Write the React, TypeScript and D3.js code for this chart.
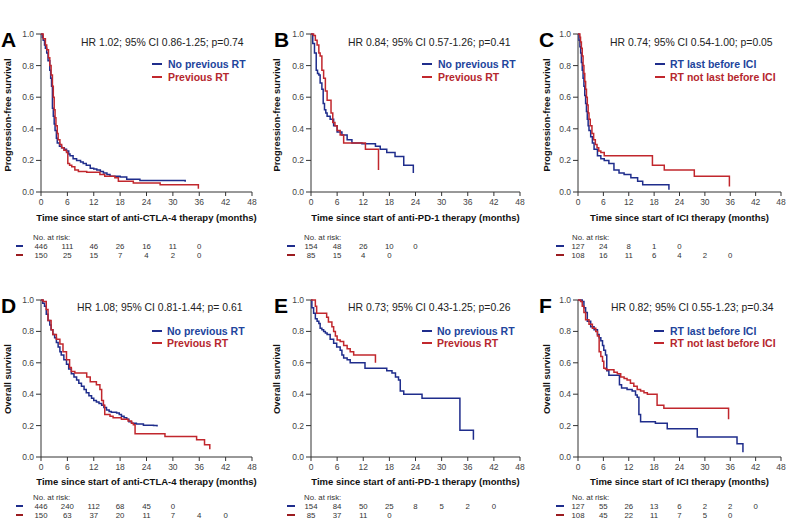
import React from 'react';
import * as d3 from 'd3';

// ---------- axis ticks ----------
const xTicks = [0, 6, 12, 18, 24, 30, 36, 42, 48];
const yTicks = [0, 0.2, 0.4, 0.6, 0.8, 1.0];

// ---------- texts ----------
const letters = ['A', 'B', 'C', 'D', 'E', 'F'];
const hrTexts = [
  'HR 1.02; 95% CI 0.86-1.25; p=0.74',
  'HR 0.84; 95% CI 0.57-1.26; p=0.41',
  'HR 0.74; 95% CI 0.54-1.00; p=0.05',
  'HR 1.08; 95% CI 0.81-1.44; p= 0.61',
  'HR 0.73; 95% CI 0.43-1.25; p=0.26',
  'HR 0.82; 95% CI 0.55-1.23; p=0.34',
];
const legendPrev = ['No previous RT', 'Previous RT'];
const legendLast = ['RT last before ICI', 'RT not last before ICI'];
const yLabels = ['Progression-free survival', 'Overall survival'];
const xTitles = [
  'Time since start of anti-CTLA-4 therapy (months)',
  'Time since start of anti-PD-1 therapy (months)',
  'Time since start of ICI therapy (months)',
];

// ---------- survival curves (time in months, survival) ----------
const pfsA_blue_t = [0.3, 0.5, 0.8, 1.0, 1.3, 1.6, 2.0, 2.2, 2.4, 2.6, 2.8, 3.0, 3.2, 3.5, 3.7, 4.2, 4.7, 5.3, 5.8, 6.3, 6.6, 7.3, 8.1, 9.0, 9.6, 10.3, 11.2, 12.0, 12.7, 13.5, 14.2, 15.0, 15.7, 18.0, 19.5, 22.5, 32.8];
const pfsA_blue_s = [0.98, 0.96, 0.93, 0.91, 0.88, 0.83, 0.77, 0.72, 0.67, 0.53, 0.48, 0.43, 0.39, 0.34, 0.31, 0.29, 0.28, 0.27, 0.26, 0.24, 0.23, 0.21, 0.20, 0.19, 0.18, 0.17, 0.15, 0.145, 0.14, 0.13, 0.12, 0.11, 0.10, 0.095, 0.08, 0.072, 0.065];
const pfsA_red_t = [0.5, 1.0, 1.3, 1.7, 2.0, 2.3, 2.6, 2.8, 3.0, 3.2, 3.4, 3.7, 3.9, 4.3, 4.7, 5.2, 5.8, 6.1, 6.5, 7.0, 7.7, 8.5, 10.4, 13.4, 14.5, 16.8, 17.6, 21.0, 27.1, 35.8];
const pfsA_red_s = [0.97, 0.93, 0.9, 0.85, 0.8, 0.74, 0.67, 0.6, 0.52, 0.47, 0.42, 0.37, 0.33, 0.30, 0.28, 0.265, 0.25, 0.18, 0.17, 0.16, 0.14, 0.13, 0.125, 0.11, 0.10, 0.09, 0.068, 0.057, 0.046, 0.02];

const pfsB_blue_t = [0.4, 0.8, 1.2, 1.5, 1.8, 2.1, 2.5, 2.8, 3.1, 3.4, 3.7, 4.4, 5.2, 6.0, 7.1, 8.3, 9.4, 11.7, 14.8, 15.9, 17.4, 19.3, 21.3, 23.5];
const pfsB_blue_s = [0.94, 0.88, 0.77, 0.75, 0.74, 0.69, 0.65, 0.56, 0.52, 0.50, 0.48, 0.46, 0.42, 0.38, 0.36, 0.33, 0.31, 0.305, 0.29, 0.27, 0.25, 0.225, 0.17, 0.12];
const pfsB_red_t = [0.6, 1.0, 1.4, 1.8, 2.1, 2.5, 2.9, 3.3, 3.7, 4.6, 5.0, 5.5, 6.0, 6.7, 7.5, 12.5, 15.5];
const pfsB_red_s = [0.99, 0.96, 0.93, 0.88, 0.86, 0.77, 0.72, 0.64, 0.58, 0.5, 0.44, 0.42, 0.39, 0.36, 0.31, 0.27, 0.14];

const pfsC_blue_t = [0.24, 0.45, 0.63, 0.8, 1.0, 1.2, 1.4, 1.6, 1.8, 2.0, 2.2, 2.4, 2.6, 3.0, 3.4, 3.8, 4.6, 5.4, 6.2, 7.3, 8.5, 9.7, 10.9, 12.5, 14.1, 15.3, 21.5];
const pfsC_blue_s = [0.96, 0.92, 0.88, 0.82, 0.77, 0.72, 0.67, 0.61, 0.56, 0.51, 0.46, 0.42, 0.39, 0.35, 0.31, 0.27, 0.23, 0.21, 0.20, 0.18, 0.14, 0.12, 0.11, 0.09, 0.068, 0.046, 0.015];
const pfsC_red_t = [0.45, 0.6, 0.8, 1.0, 1.2, 1.4, 1.6, 1.8, 2.0, 2.2, 2.4, 2.6, 2.9, 3.3, 3.7, 4.1, 4.5, 4.9, 5.4, 6.2, 17.6, 20.4, 27.5, 35.8];
const pfsC_red_s = [0.98, 0.95, 0.91, 0.86, 0.80, 0.75, 0.70, 0.65, 0.60, 0.55, 0.5, 0.46, 0.42, 0.37, 0.33, 0.30, 0.28, 0.26, 0.25, 0.23, 0.17, 0.14, 0.10, 0.035];

const osD_blue_t = [0.4, 0.8, 1.2, 1.6, 2.0, 2.3, 2.7, 3.1, 3.5, 3.9, 4.3, 4.6, 5.2, 5.8, 6.3, 6.9, 7.5, 8.1, 8.6, 9.2, 9.8, 10.3, 10.9, 11.5, 12.0, 12.6, 13.2, 13.8, 14.3, 14.9, 15.5, 16.0, 17.2, 17.8, 18.3, 18.9, 19.5, 20.0, 20.6, 21.7, 23.3, 25.6, 26.4];
const osD_blue_s = [0.98, 0.96, 0.91, 0.87, 0.84, 0.81, 0.78, 0.76, 0.73, 0.70, 0.67, 0.65, 0.62, 0.59, 0.56, 0.53, 0.51, 0.49, 0.47, 0.45, 0.43, 0.41, 0.39, 0.375, 0.36, 0.35, 0.34, 0.33, 0.315, 0.30, 0.29, 0.285, 0.28, 0.27, 0.26, 0.25, 0.24, 0.225, 0.215, 0.21, 0.203, 0.20, 0.195];
const osD_red_t = [0.5, 1.2, 1.6, 2.3, 2.7, 3.5, 4.3, 5.0, 5.8, 6.5, 6.9, 7.7, 10.4, 11.2, 12.6, 13.4, 13.8, 14.2, 14.5, 15.7, 16.4, 18.3, 19.8, 20.6, 21.0, 21.4, 28.2, 35.4, 37.2, 38.4];
const osD_red_s = [0.99, 0.94, 0.87, 0.81, 0.78, 0.75, 0.72, 0.67, 0.62, 0.57, 0.545, 0.535, 0.51, 0.48, 0.46, 0.43, 0.36, 0.33, 0.27, 0.26, 0.25, 0.24, 0.23, 0.215, 0.205, 0.148, 0.13, 0.11, 0.078, 0.05];

const osE_blue_t = [0.2, 0.6, 1.0, 1.4, 1.8, 2.1, 2.5, 2.9, 3.3, 3.7, 4.4, 5.2, 5.9, 6.7, 7.1, 7.5, 8.3, 9.0, 12.4, 17.4, 18.6, 19.4, 20.1, 20.5, 21.3, 25.5, 34.2, 37.3];
const osE_blue_s = [0.95, 0.915, 0.88, 0.865, 0.85, 0.82, 0.81, 0.80, 0.79, 0.78, 0.75, 0.725, 0.70, 0.68, 0.65, 0.63, 0.62, 0.60, 0.565, 0.55, 0.535, 0.51, 0.49, 0.42, 0.40, 0.375, 0.17, 0.11];
const osE_red_t = [1.0, 1.3, 3.6, 4.0, 4.8, 5.2, 5.6, 6.0, 6.7, 7.5, 8.3, 9.0, 9.8, 14.8];
const osE_red_s = [0.96, 0.915, 0.89, 0.86, 0.83, 0.80, 0.77, 0.745, 0.735, 0.71, 0.69, 0.67, 0.65, 0.60];

const osF_blue_t = [1.0, 1.4, 1.8, 2.2, 3.0, 3.8, 4.6, 5.0, 5.4, 5.8, 6.1, 6.5, 6.8, 7.3, 9.8, 10.3, 11.6, 12.8, 13.6, 14.0, 14.4, 14.8, 18.3, 21.1, 28.2, 37.6, 39.0];
const osF_blue_s = [0.99, 0.95, 0.92, 0.865, 0.83, 0.81, 0.78, 0.76, 0.74, 0.71, 0.68, 0.65, 0.55, 0.52, 0.46, 0.44, 0.43, 0.42, 0.395, 0.38, 0.27, 0.225, 0.215, 0.18, 0.128, 0.085, 0.03];
const osF_red_t = [0.6, 1.0, 1.4, 1.8, 2.6, 3.4, 4.2, 4.6, 5.0, 5.4, 5.8, 6.1, 6.5, 6.8, 8.5, 9.3, 10.1, 10.9, 11.6, 12.4, 13.2, 14.0, 14.8, 15.6, 16.4, 18.7, 20.3, 35.6];
const osF_red_s = [0.99, 0.96, 0.92, 0.875, 0.845, 0.82, 0.80, 0.77, 0.67, 0.64, 0.61, 0.565, 0.56, 0.555, 0.54, 0.53, 0.51, 0.50, 0.49, 0.47, 0.45, 0.43, 0.42, 0.41, 0.40, 0.33, 0.31, 0.24];

// ---------- numbers at risk ----------
const riskA_blue = [446, 111, 46, 26, 16, 11, 0];
const riskA_red = [150, 25, 15, 7, 4, 2, 0];
const riskB_blue = [154, 48, 26, 10, 0];
const riskB_red = [85, 15, 4, 0];
const riskC_blue = [127, 24, 8, 1, 0];
const riskC_red = [108, 16, 11, 6, 4, 2, 0];
const riskD_blue = [446, 240, 112, 68, 45, 0];
const riskD_red = [150, 63, 37, 20, 11, 7, 4, 0];
const riskE_blue = [154, 84, 50, 25, 8, 5, 2, 0];
const riskE_red = [85, 37, 11, 0];
const riskF_blue = [127, 55, 26, 13, 6, 2, 2, 0];
const riskF_red = [108, 45, 22, 11, 7, 5, 0];

// ---------- styling / layout ----------
const FONT = "'Liberation Sans', Arial, Helvetica, sans-serif";
const BLUE = '#1f2d8c';
const RED = '#c1272d';
const BLUE_TXT = '#22449c';
const RED_TXT = '#b5272d';
const AXIS = '#333';
const RISK_FS = 7.8;

const COLS = [
  { x0: 41, x1: 252, letterX: 1, hrX: [81, 77], legLine: [152, 152], legText: [168, 167], yLabX: 8, riskLabX: 33, dash: [16, 23] },
  { x0: 311, x1: 520, letterX: 274, hrX: [348, 348], legLine: [422, 422], legText: [438, 437], yLabX: 277, riskLabX: 304, dash: [287, 295] },
  { x0: 578, x1: 781, letterX: 539, hrX: [610, 611], legLine: [655, 654], legText: [670, 670], yLabX: 547, riskLabX: 572, dash: [556, 564] },
];
const ROWS = [
  { yTop: 34, yBot: 192, letterY: 47, hrY: 46, leg: [64, 77], yLabY: 115, titleY: 218, risk: [237, 246, 255] },
  { yTop: 300, yBot: 457, letterY: 313, hrY: 311, leg: [331, 343], yLabY: 379, titleY: 482, risk: [497, 506, 515] },
];

const panelData = [
  { blue: [pfsA_blue_t, pfsA_blue_s], red: [pfsA_red_t, pfsA_red_s], rb: riskA_blue, rr: riskA_red, legend: legendPrev },
  { blue: [pfsB_blue_t, pfsB_blue_s], red: [pfsB_red_t, pfsB_red_s], rb: riskB_blue, rr: riskB_red, legend: legendPrev },
  { blue: [pfsC_blue_t, pfsC_blue_s], red: [pfsC_red_t, pfsC_red_s], rb: riskC_blue, rr: riskC_red, legend: legendLast },
  { blue: [osD_blue_t, osD_blue_s], red: [osD_red_t, osD_red_s], rb: riskD_blue, rr: riskD_red, legend: legendPrev },
  { blue: [osE_blue_t, osE_blue_s], red: [osE_red_t, osE_red_s], rb: riskE_blue, rr: riskE_red, legend: legendPrev },
  { blue: [osF_blue_t, osF_blue_s], red: [osF_red_t, osF_red_s], rb: riskF_blue, rr: riskF_red, legend: legendLast },
];

function Panel({ idx }: { idx: number }) {
  const col = COLS[idx % 3];
  const row = ROWS[Math.floor(idx / 3)];
  const r = Math.floor(idx / 3);
  const d = panelData[idx];
  const x = d3.scaleLinear().domain([0, 48]).range([col.x0, col.x1]);
  const y = d3.scaleLinear().domain([0, 1]).range([row.yBot, row.yTop]);
  const line = d3
    .line<[number, number]>()
    .x((p) => x(p[0]))
    .y((p) => y(p[1]))
    .curve(d3.curveStepAfter);
  const pts = (c: number[][]): [number, number][] => [[0, 1], ...c[0].map((t, i) => [t, c[1][i]] as [number, number])];

  return (
    <g>
      {/* axes */}
      <line x1={col.x0} x2={col.x0} y1={row.yTop} y2={row.yBot} stroke={AXIS} strokeWidth={1} />
      <line x1={col.x0} x2={col.x1} y1={row.yBot} y2={row.yBot} stroke={AXIS} strokeWidth={1} />
      {yTicks.map((t) => (
        <g key={'y' + t}>
          <line x1={col.x0 - 5} x2={col.x0} y1={y(t)} y2={y(t)} stroke={AXIS} />
          <text x={col.x0 - 7} y={y(t)} dy="0.35em" textAnchor="end" fontSize={8.5} fill="#444" fontFamily={FONT}>
            {t.toFixed(1)}
          </text>
        </g>
      ))}
      {xTicks.map((t) => (
        <g key={'x' + t}>
          <line x1={x(t)} x2={x(t)} y1={row.yBot} y2={row.yBot + 4} stroke={AXIS} />
          <text x={x(t)} y={row.yBot + 10} dy="0.35em" textAnchor="middle" fontSize={8.5} fill="#444" fontFamily={FONT}>
            {t}
          </text>
        </g>
      ))}
      {/* curves */}
      <path d={line(pts(d.blue)) || ''} fill="none" stroke={BLUE} strokeWidth={1.5} />
      <path d={line(pts(d.red)) || ''} fill="none" stroke={RED} strokeWidth={1.5} />
      {/* panel letter */}
      <text x={col.letterX} y={row.letterY} fontSize={21} fontWeight="bold" fontFamily={FONT} fill="#000">
        {letters[idx]}
      </text>
      {/* HR */}
      <text x={col.hrX[r]} y={row.hrY} fontSize={10.4} fontFamily={FONT} fill="#222">
        {hrTexts[idx]}
      </text>
      {/* legend */}
      {[0, 1].map((k) => (
        <g key={'leg' + k}>
          <line x1={col.legLine[r]} x2={col.legLine[r] + 10} y1={row.leg[k]} y2={row.leg[k]} stroke={k === 0 ? BLUE : RED} strokeWidth={2} />
          <text x={col.legText[r]} y={row.leg[k]} dy="0.35em" fontSize={10.5} fontWeight="bold" fontFamily={FONT} fill={k === 0 ? BLUE_TXT : RED_TXT}>
            {d.legend[k]}
          </text>
        </g>
      ))}
      {/* y label */}
      <text
        transform={`translate(${col.yLabX},${row.yLabY}) rotate(-90)`}
        textAnchor="middle"
        dy="0.35em"
        fontSize={9.4}
        fontWeight="bold"
        fontFamily={FONT}
        fill="#111"
      >
        {yLabels[r]}
      </text>
      {/* x title */}
      <text x={(col.x0 + col.x1) / 2} y={row.titleY} dy="0.35em" textAnchor="middle" fontSize={9.5} fontWeight="bold" fontFamily={FONT} fill="#111">
        {xTitles[idx % 3]}
      </text>
      {/* numbers at risk */}
      <text x={col.riskLabX} y={row.risk[0]} dy="0.35em" fontSize={RISK_FS} fontFamily={FONT} fill="#333">
        No. at risk:
      </text>
      {[d.rb, d.rr].map((arr, k) => (
        <g key={'risk' + k}>
          <line x1={col.dash[0]} x2={col.dash[1]} y1={row.risk[k + 1]} y2={row.risk[k + 1]} stroke={k === 0 ? BLUE : '#9b1c20'} strokeWidth={2} />
          {arr.map((n, i) => (
            <text key={i} x={x(xTicks[i])} y={row.risk[k + 1]} dy="0.35em" textAnchor="middle" fontSize={RISK_FS} fontFamily={FONT} fill="#333">
              {n}
            </text>
          ))}
        </g>
      ))}
    </g>
  );
}

export default function App() {
  return (
    <svg width={788} height={525} style={{ display: 'block', position: 'absolute', left: 0, top: 0, background: '#fff' }}>
      <rect x={0} y={0} width={788} height={525} fill="#fff" />
      {[0, 1, 2, 3, 4, 5].map((i) => (
        <Panel key={i} idx={i} />
      ))}
    </svg>
  );
}
